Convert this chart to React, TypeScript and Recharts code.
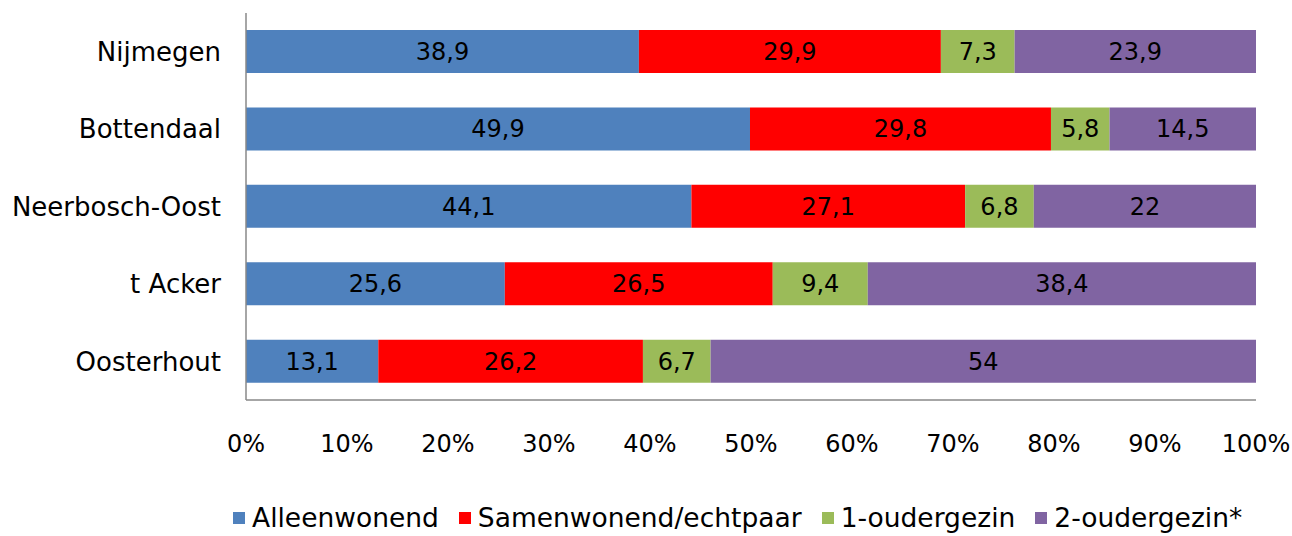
import React from 'react';
import { BarChart, Bar, XAxis, YAxis, Legend, LabelList } from 'recharts';

const wijken = ['Nijmegen', 'Bottendaal', 'Neerbosch-Oost', 't Acker', 'Oosterhout'];
const alleenwonend = [38.9, 49.9, 44.1, 25.6, 13.1];
const samenwonend = [29.9, 29.8, 27.1, 26.5, 26.2];
const eenOuder = [7.3, 5.8, 6.8, 9.4, 6.7];
const tweeOuder = [23.9, 14.5, 22, 38.4, 54];
const xTicks = [0, 0.1, 0.2, 0.3, 0.4, 0.5, 0.6, 0.7, 0.8, 0.9, 1];

const series = [
  { key: 'alleen', name: 'Alleenwonend', color: '#4F81BD' },
  { key: 'samen', name: 'Samenwonend/echtpaar', color: '#FF0000' },
  { key: 'een', name: '1-oudergezin', color: '#9BBB59' },
  { key: 'twee', name: '2-oudergezin*', color: '#8064A2' },
];

const data = wijken.map((wijk, i) => ({
  wijk,
  alleen: alleenwonend[i],
  samen: samenwonend[i],
  een: eenOuder[i],
  twee: tweeOuder[i],
}));

const FONT = '"DejaVu Sans", sans-serif';
const fmt = (v: any) => String(v).replace('.', ',');

const LegendContent = () => (
  <div style={{ display: 'flex', paddingLeft: 233, fontFamily: FONT, fontSize: 26.5, color: '#000', lineHeight: '30px' }}>
    {series.map((s) => (
      <div key={s.key} style={{ display: 'flex', alignItems: 'center', marginRight: 20 }}>
        <span style={{ width: 12, height: 12, background: s.color, display: 'inline-block', marginRight: 7 }} />
        <span>{s.name}</span>
      </div>
    ))}
  </div>
);

export default function App() {
  return (
    <div style={{ position: 'absolute', left: 0, top: 0, background: '#fff' }}>
      <BarChart
        width={1292}
        height={536}
        data={data}
        layout="vertical"
        stackOffset="expand"
        barCategoryGap="22%"
        margin={{ top: 13, right: 36, left: 0, bottom: 0 }}
      >
        <XAxis
          type="number"
          domain={[0, 1]}
          ticks={xTicks}
          tickFormatter={(v: number) => `${Math.round(v * 100)}%`}
          axisLine={{ stroke: '#888888', strokeWidth: 1.5 }}
          tickLine={false}
          tickMargin={29}
          tick={{ fontSize: 24, fill: '#000', fontFamily: FONT }}
          height={106}
          interval={0}
        />
        <YAxis
          type="category"
          dataKey="wijk"
          width={246}
          axisLine={{ stroke: '#888888', strokeWidth: 1.5 }}
          tickLine={false}
          tickMargin={19}
          tick={{ fontSize: 26, fill: '#000', fontFamily: FONT }}
        />
        <Legend
          verticalAlign="bottom"
          content={<LegendContent />}
          wrapperStyle={{ position: 'absolute', top: 503, left: 0, width: 1292 }}
        />
        {series.map((s) => (
          <Bar key={s.key} dataKey={s.key} name={s.name} stackId="a" fill={s.color} isAnimationActive={false}>
            <LabelList
              dataKey={s.key}
              position="center"
              formatter={fmt}
              style={{ fontSize: 24, fill: '#000', fontFamily: FONT }}
            />
          </Bar>
        ))}
      </BarChart>
    </div>
  );
}
